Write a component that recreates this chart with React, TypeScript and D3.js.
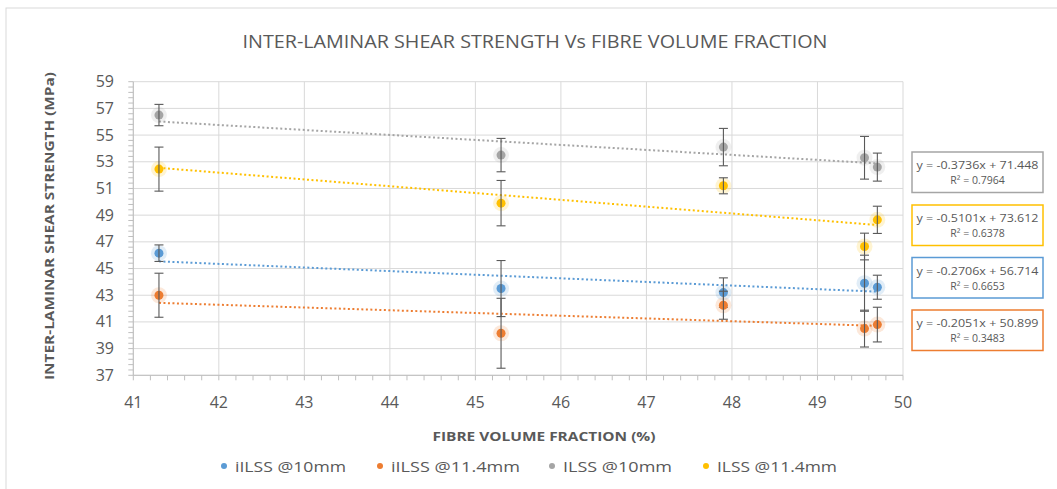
import React from "react";
import * as d3 from "d3";

const xValues = [41.3, 45.3, 47.9, 49.55, 49.7];
const seriesNames = ["iILSS @10mm", "iILSS @11.4mm", "ILSS @10mm", "ILSS @11.4mm"];
const seriesColors = ["#5B9BD5", "#ED7D31", "#A5A5A5", "#FFC000"];
const blueY = [46.15, 43.5, 43.2, 43.9, 43.6];
const blueErr = [0.62, 2.1, 1.1, 2.1, 0.9];
const orangeY = [43.0, 40.15, 42.25, 40.5, 40.8];
const orangeErr = [1.65, 2.62, 1.05, 1.38, 1.3];
const grayY = [56.5, 53.5, 54.1, 53.3, 52.6];
const grayErr = [0.8, 1.25, 1.4, 1.6, 1.05];
const yellowY = [52.45, 49.9, 51.2, 46.65, 48.65];
const yellowErr = [1.65, 1.7, 0.6, 1.0, 1.02];
const trendSlopes = [-0.2706, -0.2051, -0.3736, -0.5101];
const trendIntercepts = [56.714, 50.899, 71.448, 73.612];
const trendEquations = ["y = -0.2706x + 56.714", "y = -0.2051x + 50.899", "y = -0.3736x + 71.448", "y = -0.5101x + 73.612"];
const trendR2 = ["R² = 0.6653", "R² = 0.3483", "R² = 0.7964", "R² = 0.6378"];
const xTicks = [41, 42, 43, 44, 45, 46, 47, 48, 49, 50];
const yTicks = [37, 39, 41, 43, 45, 47, 49, 51, 53, 55, 57, 59];

const seriesY = [blueY, orangeY, grayY, yellowY];
const seriesErr = [blueErr, orangeErr, grayErr, yellowErr];

const W = 1057;
const H = 489;
const font = "'Open Sans', 'Liberation Sans', sans-serif";
const textColor = "#595959";

export default function App() {
  const x = d3.scaleLinear().domain([41, 50]).range([133.3, 903]);
  const y = d3.scaleLinear().domain([37, 59]).range([375.3, 81.7]);
  const xMinor = d3.range(41, 50.001, 0.2);
  const yMinor = d3.range(37, 59.001, 0.4);
  const xMin = d3.min(xValues) as number;
  const xMax = d3.max(xValues) as number;
  const line = d3
    .line<number>()
    .x((d) => x(d[0]))
    .y((d) => y(d[1])) as any;

  // equation boxes: order top to bottom gray, yellow, blue, orange
  const boxOrder = [2, 3, 0, 1];
  const boxTops = [152, 205, 257.5, 310];
  // legend
  const legendMarkerX = [224, 380, 552, 706];
  const legendTextLen = [111, 129, 109, 120];

  return (
    <svg
      width={W}
      height={H}
      style={{ position: "absolute", left: 0, top: 0, background: "#fff" }}
      fontFamily={font}
    >
      <rect x={6} y={8} width={1070} height={520} fill="#fff" stroke="#D9D9D9" strokeWidth={1} />
      <text
        x={535}
        y={48}
        textAnchor="middle"
        fontSize={18}
        fill={textColor}
        textLength={585}
        lengthAdjust="spacingAndGlyphs"
      >
        INTER-LAMINAR SHEAR STRENGTH Vs FIBRE VOLUME FRACTION
      </text>

      {/* gridlines */}
      {yTicks.map((t) => (
        <line key={"hg" + t} x1={x(41)} x2={x(50)} y1={y(t)} y2={y(t)} stroke="#D9D9D9" strokeWidth={1} />
      ))}
      {xTicks.map((t) => (
        <line key={"vg" + t} x1={x(t)} x2={x(t)} y1={y(37)} y2={y(59)} stroke="#D9D9D9" strokeWidth={1} />
      ))}
      {/* minor ticks */}
      {xMinor.map((t, i) => (
        <line key={"xm" + i} x1={x(t)} x2={x(t)} y1={y(37)} y2={y(37) + 5} stroke="#BFBFBF" strokeWidth={1} />
      ))}
      {yMinor.map((t, i) => (
        <line key={"ym" + i} x1={x(41) - 5} x2={x(41)} y1={y(t)} y2={y(t)} stroke="#BFBFBF" strokeWidth={1} />
      ))}
      <line x1={x(41)} x2={x(50)} y1={y(37)} y2={y(37)} stroke="#BFBFBF" strokeWidth={1} />
      <line x1={x(41)} x2={x(41)} y1={y(37)} y2={y(59)} stroke="#BFBFBF" strokeWidth={1} />

      {/* tick labels */}
      {yTicks.map((t) => (
        <text key={"yl" + t} x={114} y={y(t) + 5.5} textAnchor="end" fontSize={16} fill={textColor}>
          {t}
        </text>
      ))}
      {xTicks.map((t) => (
        <text key={"xl" + t} x={x(t)} y={408} textAnchor="middle" fontSize={16} fill={textColor}>
          {t}
        </text>
      ))}

      {/* axis titles */}
      <text
        transform={`translate(54, 226) rotate(-90)`}
        textAnchor="middle"
        fontSize={12.5}
        fontWeight="bold"
        fill={textColor}
        textLength={308}
        lengthAdjust="spacingAndGlyphs"
      >
        INTER-LAMINAR SHEAR STRENGTH (MPa)
      </text>
      <text
        x={544}
        y={441}
        textAnchor="middle"
        fontSize={13}
        fontWeight="bold"
        fill={textColor}
        textLength={223}
        lengthAdjust="spacingAndGlyphs"
      >
        FIBRE VOLUME FRACTION (%)
      </text>

      {/* trendlines */}
      {trendSlopes.map((m, i) => (
        <path
          key={"tr" + i}
          d={line([
            [xMin, m * xMin + trendIntercepts[i]],
            [xMax, m * xMax + trendIntercepts[i]],
          ])}
          fill="none"
          stroke={seriesColors[i]}
          strokeWidth={2}
          strokeDasharray="2 2.5"
        />
      ))}

      {/* error bars and markers */}
      {seriesY.map((ys, si) => (
        <g key={"s" + si}>
          {ys.map((v, j) => {
            const cx = x(xValues[j]);
            const e = seriesErr[si][j];
            return (
              <g key={j}>
                <circle cx={cx} cy={y(v)} r={8} fill={seriesColors[si]} opacity={0.18} />
                <circle cx={cx} cy={y(v)} r={4.5} fill={seriesColors[si]} />
                <line x1={cx} x2={cx} y1={y(v + e)} y2={y(v - e)} stroke="#595959" strokeWidth={1.1} />
                <line x1={cx - 4.5} x2={cx + 4.5} y1={y(v + e)} y2={y(v + e)} stroke="#595959" strokeWidth={1.1} />
                <line x1={cx - 4.5} x2={cx + 4.5} y1={y(v - e)} y2={y(v - e)} stroke="#595959" strokeWidth={1.1} />
              </g>
            );
          })}
        </g>
      ))}

      {/* equation boxes */}
      {boxOrder.map((si, k) => (
        <g key={"eq" + si}>
          <rect x={912} y={boxTops[k]} width={131} height={40.5} fill="#fff" stroke={seriesColors[si]} strokeWidth={1.5} />
          <text
            x={977.5}
            y={boxTops[k] + 17}
            textAnchor="middle"
            fontSize={10.5}
            fill={textColor}
            textLength={122}
            lengthAdjust="spacingAndGlyphs"
          >
            {trendEquations[si]}
          </text>
          <text x={977.5} y={boxTops[k] + 32} textAnchor="middle" fontSize={10.5} fill={textColor}>
            {trendR2[si]}
          </text>
        </g>
      ))}

      {/* legend */}
      {seriesNames.map((n, i) => (
        <g key={"lg" + i}>
          <circle cx={legendMarkerX[i]} cy={466} r={3} fill={seriesColors[i]} />
          <text
            x={legendMarkerX[i] + 11}
            y={471.5}
            fontSize={15}
            fill={textColor}
            textLength={legendTextLen[i]}
            lengthAdjust="spacingAndGlyphs"
          >
            {n}
          </text>
        </g>
      ))}
    </svg>
  );
}
